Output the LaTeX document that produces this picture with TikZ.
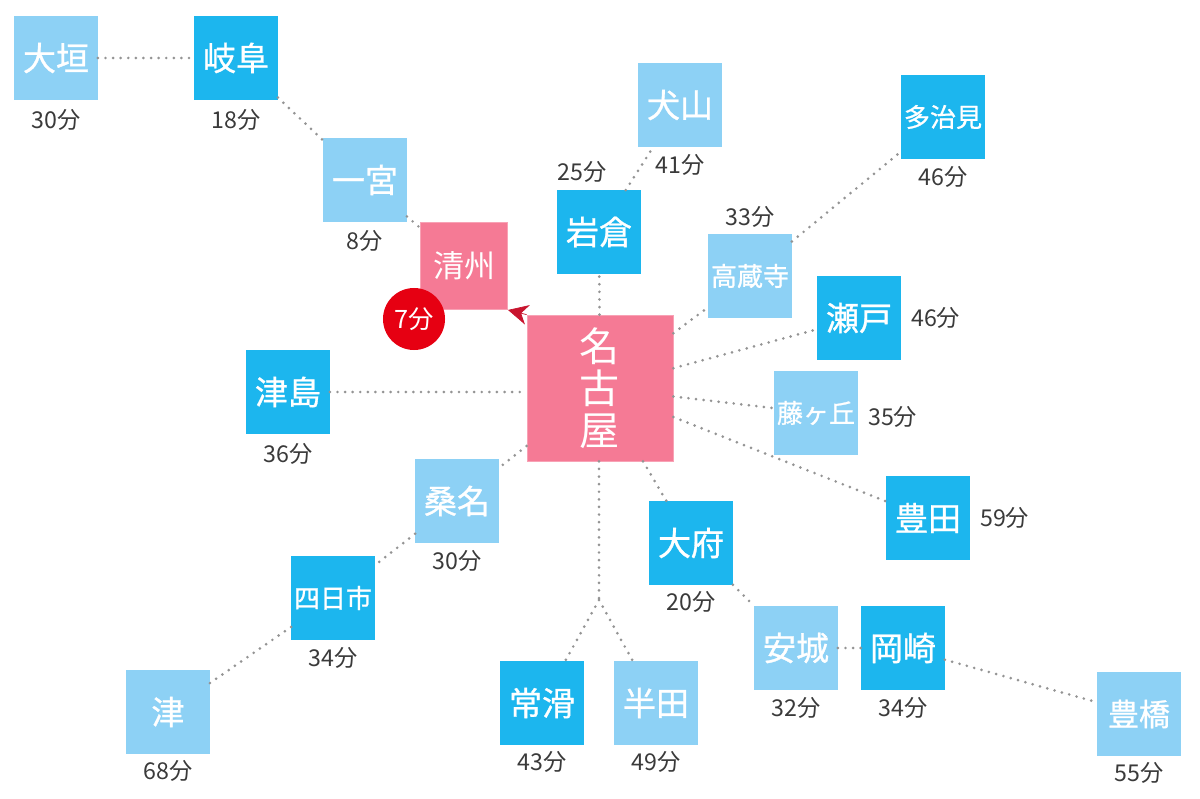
\documentclass[tikz,border=0pt]{standalone}
\usepackage{fontspec}
\setmainfont{Noto Sans CJK JP}
\newfontfamily\stopfont[FakeBold=0.9]{Noto Sans CJK JP}
\usepackage{xcolor}
\usetikzlibrary{positioning, arrows.meta}
\definecolor{skyLight}{HTML}{8DD1F5}
\definecolor{skyDark}{HTML}{1CB6EE}
\definecolor{rosePink}{HTML}{F57A95}
\definecolor{badgeRed}{HTML}{E60012}
\definecolor{arrowRed}{HTML}{C8142E}
\definecolor{timeText}{HTML}{3A3A3A}
\tikzset{
    stop/.style={rectangle, fill=skyLight, text=white, minimum size=2.08cm, inner sep=0pt, align=center, font=\stopfont\fontsize{23.5pt}{26pt}\selectfont},
    express/.style={stop, fill=skyDark},
    longName/.style={font=\stopfont\fontsize{18.5pt}{20pt}\selectfont},
    hub/.style={stop, fill=rosePink, draw=rosePink!70!white, line width=0.5pt, font=\fontsize{22pt}{26pt}\selectfont},
    time/.style={inner sep=0pt, minimum height=0.6cm, text=timeText, font=\fontsize{16.5pt}{18pt}\selectfont},
    badge/.style={circle, fill=badgeRed, text=white, minimum size=1.55cm, inner sep=0pt, font=\fontsize{18pt}{20pt}\selectfont},
    track/.style={draw=black!42, line width=2.1pt, line cap=round, dash pattern=on 0pt off 5.4pt},
    toKiyosu/.style={-{Stealth[length=0.5cm, width=0.5cm]}, arrowRed, line width=0.5pt}
}
\begin{document}
\begin{tikzpicture}[x=0.025cm, y=-0.025cm]
        \useasboundingbox (0,0) rectangle (1200,799);
        
        % Centre and the highlighted stop
        \node[hub, minimum size=3.65cm, font=\fontsize{28.5pt}{30pt}\selectfont] (Nagoya) at (600,388) {名\\古\\屋};
        \node[hub, minimum size=2.18cm] (Kiyosu) at (464,266) {清州};
        \node[badge] (KiyosuTime) at (414,319) {7分};
        
        % North west line
        \node[stop] (Ogaki) at (56,58) {大垣};
        \node[express] (Gifu) at (236,58) {岐阜};
        \node[stop] (Ichinomiya) at (365,180) {一宮};
        \node[time, below=0.2cm of Ogaki] (OgakiTime) {30分};
        \node[time, below=0.2cm of Gifu] (GifuTime) {18分};
        \node[time, below=0.18cm of Ichinomiya] (IchinomiyaTime) {8分};
        
        % North lines
        \node[stop] (Inuyama) at (680,105) {犬山};
        \node[express] (Iwakura) at (599,232) {岩倉};
        \node[express, longName] (Tajimi) at (943,117) {多治見};
        \node[stop, longName] (Kozoji) at (750,276) {高蔵寺};
        \node[time, below=0.15cm of Inuyama] (InuyamaTime) {41分};
        \node[time, above=0.15cm of Iwakura, xshift=-0.43cm] (IwakuraTime) {25分};
        \node[time, below=0.15cm of Tajimi] (TajimiTime) {46分};
        \node[time, above=0.13cm of Kozoji] (KozojiTime) {33分};
        
        % East lines
        \node[express] (Seto) at (859,318) {瀬戸};
        \node[stop, longName] (Fujigaoka) at (816,413) {藤ヶ丘};
        \node[express] (Toyota) at (928,518) {豊田};
        \node[time, right=0.25cm of Seto] (SetoTime) {46分};
        \node[time, right=0.25cm of Fujigaoka, yshift=-0.1cm] (FujigaokaTime) {35分};
        \node[time, right=0.25cm of Toyota] (ToyotaTime) {59分};
        
        % West lines
        \node[express] (Tsushima) at (288,392) {津島};
        \node[stop] (Kuwana) at (457,501) {桑名};
        \node[express, longName] (Yokkaichi) at (333,598) {四日市};
        \node[stop] (Tsu) at (168,712) {津};
        \node[time, below=0.2cm of Tsushima] (TsushimaTime) {36分};
        \node[time, below=0.15cm of Kuwana] (KuwanaTime) {30分};
        \node[time, below=0.15cm of Yokkaichi] (YokkaichiTime) {34分};
        \node[time, below=0.12cm of Tsu] (TsuTime) {68分};
        
        % South lines
        \coordinate (Fork) at (599,600);
        \node[express] (Tokoname) at (542,703) {常滑};
        \node[stop] (Handa) at (656,703) {半田};
        \node[express] (Obu) at (691,543) {大府};
        \node[stop] (Anjo) at (796,648) {安城};
        \node[express] (Okazaki) at (903,648) {岡崎};
        \node[stop, font=\stopfont\fontsize{22pt}{26pt}\selectfont] (Toyohashi) at (1139,714) {豊橋};
        \node[time, below=0.12cm of Tokoname] (TokonameTime) {43分};
        \node[time, below=0.12cm of Handa] (HandaTime) {49分};
        \node[time, below=0.12cm of Obu] (ObuTime) {20分};
        \node[time, below=0.14cm of Anjo] (AnjoTime) {32分};
        \node[time, below=0.14cm of Okazaki] (OkazakiTime) {34分};
        \node[time, below=0.12cm of Toyohashi] (ToyohashiTime) {55分};
        
        % Connections
        \foreach \from/\to in {Ogaki/Gifu, Gifu/Ichinomiya, Ichinomiya/Kiyosu, Nagoya/Iwakura, Iwakura/Inuyama,
            Nagoya/Kozoji, Kozoji/Tajimi, Nagoya/Seto, Nagoya/Fujigaoka, Nagoya/Toyota,
            Nagoya/Kuwana, Kuwana/Yokkaichi, Yokkaichi/Tsu, Nagoya/Obu, Obu/Anjo, Anjo/Okazaki, Okazaki/Toyohashi,
            Fork/Tokoname, Fork/Handa}
            \draw[track] (\from) -- (\to);
        \draw[track] (Tsushima) -- (Tsushima -| Nagoya.west);
        \draw[track] (Nagoya.south -| Fork) -- (Fork);
        
        \draw[toKiyosu] (Nagoya.north west) -- (Kiyosu.south east);
        
    \end{tikzpicture}
\end{document}
